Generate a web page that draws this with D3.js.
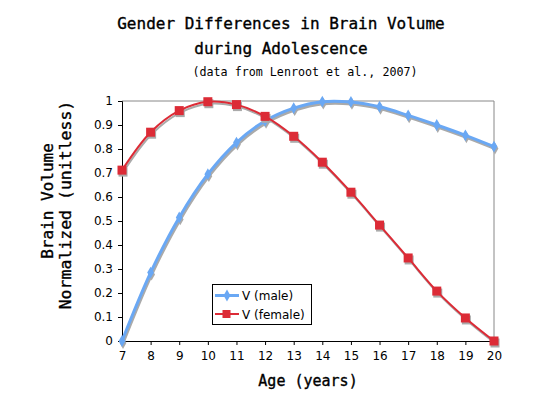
<!DOCTYPE html>
<meta charset="utf-8">
<head>
    <script type="text/javascript" src="https://cdn.jsdelivr.net/npm/d3@7"></script>
    <style>
        body { margin: 0; background: #fff; }
        .tick text { font-family: "DejaVu Sans", Verdana, sans-serif; font-size: 12px; fill: #000; }
        .mono { font-family: "DejaVu Sans Mono", monospace; fill: #000; stroke: #000; stroke-width: 0.35px; }
        .sub { font-family: "DejaVu Sans Mono", monospace; fill: #000; }
    </style>
    <title>Gender Differences in Brain Volume</title>
</head>
<body>
    <div id="chart"></div>
    <script type="text/javascript">

        // data
        var ages = [7, 8, 9, 10, 11, 12, 13, 14, 15, 16, 17, 18, 19, 20];
        var maleV = [0, 0.285, 0.515, 0.695, 0.827, 0.917, 0.97, 0.997, 0.996, 0.976, 0.94, 0.90, 0.857, 0.81];
        var femaleV = [0.712, 0.87, 0.96, 0.997, 0.985, 0.936, 0.853, 0.745, 0.62, 0.483, 0.346, 0.208, 0.096, 0];
        var seriesNames = ["V (male)", "V (female)"];
        var yTicks = [0, 0.1, 0.2, 0.3, 0.4, 0.5, 0.6, 0.7, 0.8, 0.9, 1];

        var w = 535;
        var h = 398;
        var pLeft = 122, pRight = 494, pTop = 101, pBottom = 341;

        var svg = d3.select("#chart")
                    .append("svg")
                    .attr("width", w)
                    .attr("height", h);

        var x = d3.scaleLinear().domain([7, 20]).range([pLeft, pRight]);
        var y = d3.scaleLinear().domain([0, 1]).range([pBottom, pTop]);

        // titles
        svg.append("text").attr("class", "mono")
            .attr("x", 281).attr("y", 29)
            .attr("text-anchor", "middle")
            .style("font-size", "16px")
            .text("Gender Differences in Brain Volume");
        svg.append("text").attr("class", "mono")
            .attr("x", 281).attr("y", 54)
            .attr("text-anchor", "middle")
            .style("font-size", "16px")
            .text("during Adolescence");
        svg.append("text").attr("class", "sub")
            .attr("x", 305).attr("y", 76)
            .attr("text-anchor", "middle")
            .style("font-size", "11.7px")
            .text("(data from Lenroot et al., 2007)");

        // frame top / right
        svg.append("path")
            .attr("d", "M" + pLeft + "," + pTop + "H" + pRight + "V" + pBottom)
            .attr("fill", "none")
            .attr("stroke", "#888");

        // axes
        var xAxis = d3.axisBottom(x).tickValues(ages).tickSize(4).tickPadding(6).tickFormat(d3.format("d"));
        svg.append("g")
            .attr("transform", "translate(0," + pBottom + ")")
            .call(xAxis);

        var yAxis = d3.axisLeft(y).tickValues(yTicks).tickSize(4).tickPadding(5)
            .tickFormat(function(d) { return (d === 0 || d === 1) ? d3.format("d")(d) : d3.format(".1f")(d); });
        svg.append("g")
            .attr("transform", "translate(" + pLeft + ",0)")
            .call(yAxis);

        svg.selectAll(".domain").attr("stroke", "#000");
        svg.selectAll(".tick line").attr("stroke", "#000");

        // axis titles
        svg.append("text").attr("class", "mono")
            .attr("x", 308).attr("y", 386)
            .attr("text-anchor", "middle")
            .style("font-size", "15px")
            .text("Age (years)");
        svg.append("text").attr("class", "mono")
            .attr("transform", "translate(53,201) rotate(-90)")
            .attr("text-anchor", "middle")
            .style("font-size", "16px")
            .text("Brain Volume");
        svg.append("text").attr("class", "mono")
            .attr("transform", "translate(71,205) rotate(-90)")
            .attr("text-anchor", "middle")
            .style("font-size", "16.5px")
            .text("Normalized (unitless)");

        var line = d3.line()
            .x(function(d) { return x(d[0]); })
            .y(function(d) { return y(d[1]); })
            .curve(d3.curveCatmullRom.alpha(0.5));

        var maleData = ages.map(function(a, i) { return [a, maleV[i]]; });
        var femaleData = ages.map(function(a, i) { return [a, femaleV[i]]; });

        var diamond = d3.symbol().type(d3.symbolDiamond).size(40);

        function drawSeries(data, color, width, marker) {
            var g = svg.append("g");
            // shadow
            var sh = g.append("g").attr("transform", "translate(1,2)");
            sh.append("path").datum(data).attr("d", line)
                .attr("fill", "none").attr("stroke", "#aaa").attr("stroke-width", width);
            var real = g.append("g");
            real.append("path").datum(data).attr("d", line)
                .attr("fill", "none").attr("stroke", color).attr("stroke-width", width);
            [[sh, "#aaa"], [real, color]].forEach(function(p) {
                if (marker === "square") {
                    p[0].selectAll("rect").data(data).enter().append("rect")
                        .attr("x", function(d) { return x(d[0]) - 4.5; })
                        .attr("y", function(d) { return y(d[1]) - 4.5; })
                        .attr("width", 9).attr("height", 9)
                        .attr("fill", p[1]);
                } else {
                    p[0].selectAll(".mk").data(data).enter().append("path")
                        .attr("class", "mk")
                        .attr("d", diamond)
                        .attr("transform", function(d) { return "translate(" + x(d[0]) + "," + y(d[1]) + ")"; })
                        .attr("fill", p[1]);
                }
            });
        }

        drawSeries(maleData, "#6aa8f4", 3, "diamond");
        drawSeries(femaleData, "#dc2b36", 2, "square");

        // legend
        var lg = svg.append("g");
        lg.append("rect")
            .attr("x", 212.5).attr("y", 284.5).attr("width", 99).attr("height", 40)
            .attr("fill", "#fff").attr("stroke", "#000");
        var items = [
            { name: seriesNames[0], color: "#6aa8f4", width: 3, marker: "diamond" },
            { name: seriesNames[1], color: "#dc2b36", width: 2, marker: "square" }
        ];
        items.forEach(function(it, i) {
            var cy = 295.5 + i * 18.5;
            lg.append("line").attr("x1", 215).attr("x2", 239).attr("y1", cy).attr("y2", cy)
                .attr("stroke", it.color).attr("stroke-width", it.width);
            if (it.marker === "square") {
                lg.append("rect").attr("x", 222.5).attr("y", cy - 4).attr("width", 8).attr("height", 8).attr("fill", it.color);
            } else {
                lg.append("path").attr("d", diamond).attr("transform", "translate(227," + cy + ")").attr("fill", it.color);
            }
            lg.append("text")
                .attr("x", 242).attr("y", cy + 4.5)
                .style("font-family", "'DejaVu Sans', Verdana, sans-serif")
                .style("font-size", "12px")
                .text(it.name);
        });

    </script>
</body>
</html>
